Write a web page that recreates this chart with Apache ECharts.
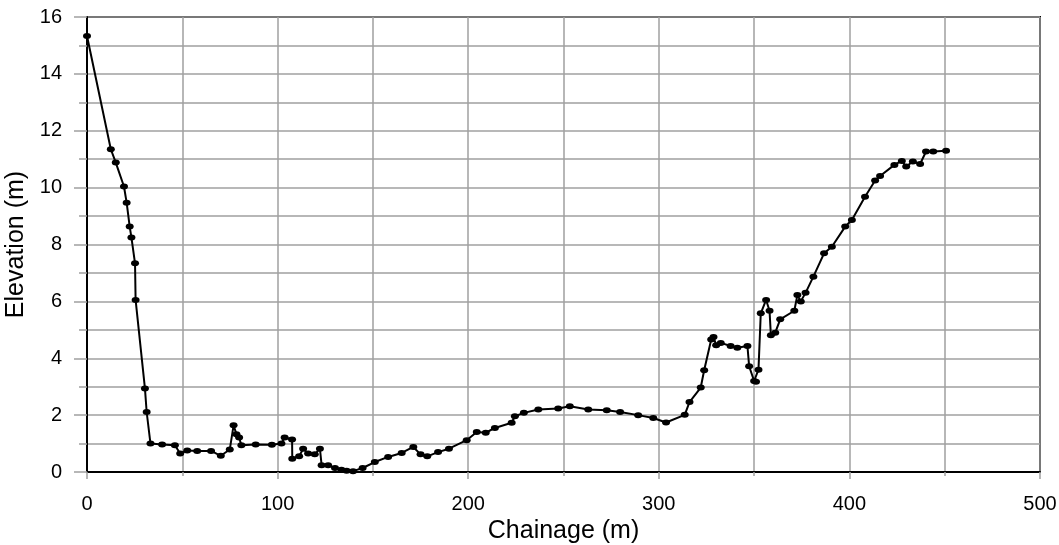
<!DOCTYPE html>
<html>
<head>
<meta charset="utf-8">
<script src="https://cdn.jsdelivr.net/npm/echarts@6/dist/echarts.min.js"></script>
<style>
  html, body { margin: 0; padding: 0; background: #fff; }
  #chart { width: 1059px; height: 545px; }
</style>
</head>
<body>
<div id="chart"></div>
<script>
// Surveyed cross-section: chainage along the line (m) and ground elevation (m)
const chainage = [
  0, 12.5, 15.1, 19.4, 20.8, 22.4, 23.3, 25.2, 25.5, 30.4,
  31.3, 33.3, 39.4, 46.1, 48.9, 52.6, 57.8, 65.1, 70.2, 74.9,
  76.9, 78.4, 79.8, 81.0, 88.5, 97.0, 102.0, 103.7, 107.6, 107.7,
  111.3, 113.4, 116.0, 119.5, 122.2, 123.1, 126.5, 130.1, 133.5, 136.2,
  139.6, 144.6, 151.0, 158.0, 165.1, 171.2, 175.0, 178.5, 184.2, 189.9,
  199.2, 204.5, 209.2, 214.0, 222.8, 224.5, 229.2, 236.8, 247.2, 253.3,
  263.0, 272.7, 279.7, 289.2, 297.1, 303.8, 313.6, 316.1, 322.0, 323.8,
  327.5, 328.7, 330.1, 332.5, 337.7, 341.2, 346.5, 347.4, 350.0, 351.0,
  352.3, 353.5, 356.3, 358.1, 358.8, 361.1, 363.7, 371.1, 372.7, 374.5,
  377.0, 381.1, 386.7, 390.8, 397.8, 401.3, 408.2, 413.5, 416.1, 423.6,
  427.5, 429.8, 433.3, 437.1, 440.2, 444.0, 450.7
];
const elevation = [
  15.33, 11.35, 10.88, 10.04, 9.47, 8.63, 8.25, 7.34, 6.05, 2.94,
  2.11, 1.00, 0.97, 0.94, 0.65, 0.76, 0.74, 0.74, 0.57, 0.79,
  1.64, 1.33, 1.21, 0.94, 0.97, 0.96, 1.00, 1.21, 1.14, 0.47,
  0.55, 0.82, 0.65, 0.62, 0.82, 0.24, 0.24, 0.14, 0.08, 0.04,
  0.03, 0.14, 0.35, 0.53, 0.67, 0.88, 0.62, 0.55, 0.70, 0.82,
  1.12, 1.41, 1.38, 1.55, 1.73, 1.96, 2.08, 2.20, 2.23, 2.31,
  2.20, 2.17, 2.11, 2.00, 1.90, 1.74, 2.01, 2.46, 2.97, 3.58,
  4.66, 4.75, 4.46, 4.54, 4.43, 4.37, 4.43, 3.72, 3.20, 3.17,
  3.60, 5.58, 6.05, 5.67, 4.81, 4.90, 5.37, 5.67, 6.22, 6.00,
  6.30, 6.87, 7.69, 7.92, 8.63, 8.86, 9.68, 10.25, 10.41, 10.80,
  10.94, 10.74, 10.92, 10.83, 11.27, 11.27, 11.30
];

const xTitle = 'Chainage (m)';
const yTitle = 'Elevation (m)';

const points = chainage.map((c, i) => [c, elevation[i]]);

const FONT = 'Liberation Sans, Arial, sans-serif';
const GRID_GREY = '#a0a0a0';

const chart = echarts.init(document.getElementById('chart'), null, { renderer: 'canvas' });
chart.setOption({
  animation: false,
  backgroundColor: '#ffffff',
  grid: {
    left: 87, right: 19, top: 17, bottom: 73,
    outerBoundsMode: 'none',
    containLabel: false,
    show: true, borderColor: '#000', borderWidth: 2, backgroundColor: 'transparent'
  },
  xAxis: {
    type: 'value', min: 0, max: 500, interval: 100,
    name: xTitle, nameLocation: 'middle', nameGap: 41,
    nameTextStyle: { fontFamily: FONT, fontSize: 25, color: '#000' },
    axisLine: { show: true, onZero: false, lineStyle: { color: '#000', width: 2 } },
    axisTick: { show: true, length: 7, lineStyle: { color: GRID_GREY, width: 1.5 } },
    minorTick: { show: true, splitNumber: 2, length: 4, lineStyle: { color: GRID_GREY, width: 1.5 } },
    axisLabel: { fontFamily: FONT, fontSize: 20, color: '#000', margin: 22 },
    splitLine: { show: true, lineStyle: { color: GRID_GREY, width: 1.5 } },
    minorSplitLine: { show: true, lineStyle: { color: GRID_GREY, width: 1.5 } }
  },
  yAxis: {
    type: 'value', min: 0, max: 16, interval: 2,
    name: yTitle, nameLocation: 'middle', nameGap: 55,
    nameTextStyle: { fontFamily: FONT, fontSize: 25, color: '#000' },
    axisLine: { show: true, onZero: false, lineStyle: { color: '#000', width: 2 } },
    axisTick: { show: true, length: 13, lineStyle: { color: GRID_GREY, width: 1.5 } },
    minorTick: { show: true, splitNumber: 2, length: 8, lineStyle: { color: GRID_GREY, width: 1.5 } },
    axisLabel: { fontFamily: FONT, fontSize: 20, color: '#000', margin: 25 },
    splitLine: { show: true, lineStyle: { color: GRID_GREY, width: 1.5 } },
    minorSplitLine: { show: true, lineStyle: { color: GRID_GREY, width: 1.5 } }
  },
  series: [{
    type: 'line',
    data: points,
    lineStyle: { color: '#000', width: 2 },
    itemStyle: { color: '#000' },
    symbol: 'circle',
    symbolSize: [8, 6],
    showSymbol: true
  }]
});
</script>
</body>
</html>
